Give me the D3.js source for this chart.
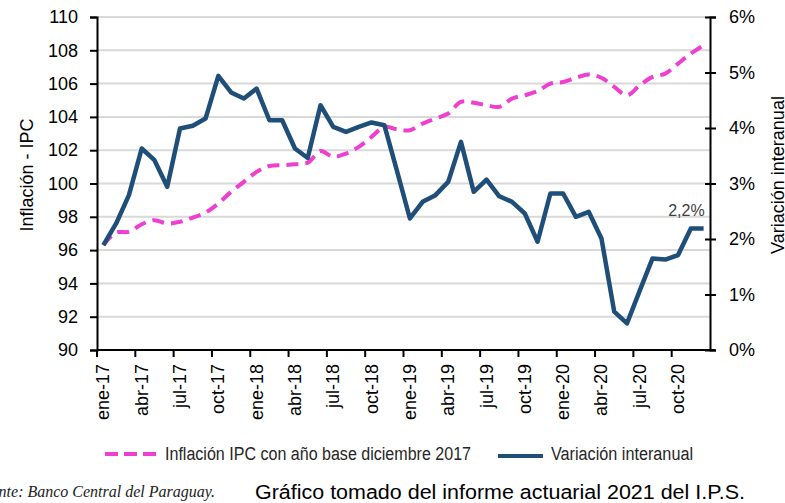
<!DOCTYPE html>
<html>
<head>
<meta charset="utf-8">
<script src="https://cdn.jsdelivr.net/npm/d3@7"></script>
<style>
  body { margin: 0; background: #fff; }
  svg { display: block; }
</style>
</head>
<body>
<div id="grafico"></div>
<script>

// meses ene-17 .. dic-20
var meses = ["ene","feb","mar","abr","may","jun","jul","ago","sep","oct","nov","dic"];
var anios = ["17","18","19","20"];
var categorias = [];
anios.forEach(function(a) { meses.forEach(function(m) { categorias.push(m + "-" + a); }); });

// Inflación IPC (base dic 2017), eje izquierdo
var ipc = [96.3, 97.05, 97.1, 97.55, 97.8, 97.6, 97.7, 97.95, 98.25, 98.8, 99.5, 100.1,
           100.7, 101.05, 101.1, 101.15, 101.25, 101.95, 101.6, 101.8, 102.2, 102.8, 103.4, 103.25,
           103.2, 103.6, 103.9, 104.2, 104.9, 104.85, 104.7, 104.6, 105.1, 105.3, 105.55, 106.0,
           106.1, 106.35, 106.55, 106.35, 105.8, 105.3, 105.9, 106.4, 106.6, 107.2, 107.8, 108.3];

// Variación interanual (%), eje derecho
var variacion = [1.89, 2.28, 2.79, 3.63, 3.42, 2.94, 3.99, 4.04, 4.17, 4.94, 4.64, 4.53,
                 4.71, 4.14, 4.14, 3.63, 3.46, 4.41, 4.02, 3.93, 4.02, 4.10, 4.05, 3.22,
                 2.37, 2.67, 2.79, 3.03, 3.75, 2.85, 3.07, 2.77, 2.67, 2.46, 1.95, 2.82,
                 2.82, 2.40, 2.49, 2.01, 0.69, 0.48, 1.07, 1.65, 1.63, 1.71, 2.19, 2.19];

var ticksIzq = [90, 92, 94, 96, 98, 100, 102, 104, 106, 108, 110];
var ticksDer = [0, 1, 2, 3, 4, 5, 6];
var etiquetaFinal = "2,2%";

const width = 785;
const height = 503;
var x0 = 97, x1 = 710, yTop = 17, yBot = 350;
var azul = "#1f4e79";
var rosa = "#ee3fd0";

var x = d3.scaleBand().domain(categorias).range([x0, x1]).padding(0);
var yL = d3.scaleLinear().domain([90, 110]).range([yBot, yTop]);
var yR = d3.scaleLinear().domain([0, 6]).range([yBot, yTop]);
var cx = function(i) { return x(categorias[i]) + x.bandwidth() / 2; };

const svg = d3.select('#grafico')
  .append('svg')
  .attr('width', width)
  .attr('height', height)
  .style('font-family', '"Liberation Sans", Arial, sans-serif');

// lineas de grilla
svg.append("g").selectAll("line")
  .data(ticksIzq.slice(1))
  .enter().append("line")
  .attr("x1", x0).attr("x2", x1)
  .attr("y1", function(d) { return yL(d); })
  .attr("y2", function(d) { return yL(d); })
  .attr("stroke", "#d9d9d9")
  .attr("stroke-width", 2);

// eje izquierdo
var ejeIzq = svg.append("g")
  .attr("transform", "translate(" + x0 + ",0)")
  .call(d3.axisLeft(yL).tickValues(ticksIzq).tickSize(7).tickPadding(12));

// eje derecho
var ejeDer = svg.append("g")
  .attr("transform", "translate(" + x1 + ",0)")
  .call(d3.axisRight(yR).tickValues(ticksDer).tickSize(6)
        .tickFormat(function(d) { return d + "%"; }).tickPadding(13));
ejeDer.selectAll(".tick line").attr("x1", -5);

// eje x: marcas cada 3 meses en los bordes de categoria
var marcas = d3.range(0, categorias.length, 3);
var ejeX = svg.append("g");
ejeX.append("line")
  .attr("x1", x0).attr("x2", x1 + 5)
  .attr("y1", yBot).attr("y2", yBot)
  .attr("stroke", "#000").attr("stroke-width", 2);
ejeX.selectAll("line.m")
  .data(marcas)
  .enter().append("line")
  .attr("class", "m")
  .attr("x1", function(i) { return x(categorias[i]); })
  .attr("x2", function(i) { return x(categorias[i]); })
  .attr("y1", yBot).attr("y2", yBot + 7)
  .attr("stroke", "#000").attr("stroke-width", 2);
ejeX.selectAll("text")
  .data(marcas)
  .enter().append("text")
  .attr("transform", function(i) { return "translate(" + (cx(i) + 6) + "," + (yBot + 14) + ") rotate(-90)"; })
  .attr("text-anchor", "end")
  .attr("font-size", 18)
  .attr("fill", "#000")
  .text(function(i) { return categorias[i]; });

[ejeIzq, ejeDer].forEach(function(g) {
  g.select(".domain").attr("stroke", "#000").attr("stroke-width", 2);
  g.selectAll(".tick line").attr("stroke", "#000").attr("stroke-width", 2);
  g.selectAll(".tick text").attr("font-size", 18).attr("fill", "#000")
    .style("font-family", '"Liberation Sans", Arial, sans-serif');
});

// titulos de ejes
svg.append("text")
  .attr("transform", "translate(33,175) rotate(-90)")
  .attr("text-anchor", "middle")
  .attr("font-size", 18)
  .text("Inflación - IPC");
svg.append("text")
  .attr("transform", "translate(784,175) rotate(-90)")
  .attr("text-anchor", "middle")
  .attr("font-size", 18)
  .text("Variación interanual");

// serie IPC (suavizada, discontinua)
var lineaIpc = d3.line()
  .x(function(d, i) { return cx(i); })
  .y(function(d) { return yL(d); })
  .curve(d3.curveCatmullRom);
svg.append("path")
  .datum(ipc)
  .attr("d", lineaIpc)
  .attr("fill", "none")
  .attr("stroke", rosa)
  .attr("stroke-width", 4)
  .attr("stroke-dasharray", "12,7");

// serie variacion interanual
var lineaVar = d3.line()
  .x(function(d, i) { return cx(i); })
  .y(function(d) { return yR(d); });
svg.append("path")
  .datum(variacion)
  .attr("d", lineaVar)
  .attr("fill", "none")
  .attr("stroke", azul)
  .attr("stroke-width", 4.5)
  .attr("stroke-linejoin", "round");

var ult = variacion.length - 1;
svg.append("text")
  .attr("x", cx(ult) + 1)
  .attr("y", yR(variacion[ult]) - 12)
  .attr("text-anchor", "end")
  .attr("font-size", 16)
  .attr("fill", "#404040")
  .text(etiquetaFinal);

// leyenda (texto angosto)
var ley = svg.append("g");
ley.append("line")
  .attr("x1", 105).attr("x2", 157).attr("y1", 454).attr("y2", 454)
  .attr("stroke", rosa).attr("stroke-width", 4).attr("stroke-dasharray", "13,6");
ley.append("text")
  .attr("x", 165).attr("y", 460)
  .attr("font-size", 18).attr("fill", "#262626")
  .attr("textLength", 306).attr("lengthAdjust", "spacingAndGlyphs")
  .text("Inflación IPC con año base diciembre 2017");
ley.append("line")
  .attr("x1", 498).attr("x2", 543).attr("y1", 456).attr("y2", 456)
  .attr("stroke", azul).attr("stroke-width", 4);
ley.append("text")
  .attr("x", 551).attr("y", 460)
  .attr("font-size", 18).attr("fill", "#262626")
  .attr("textLength", 142).attr("lengthAdjust", "spacingAndGlyphs")
  .text("Variación interanual");

// notas al pie
svg.append("text")
  .attr("x", 215).attr("y", 497)
  .attr("text-anchor", "end")
  .attr("font-size", 16)
  .style("font-family", '"Liberation Serif", serif')
  .style("font-style", "italic")
  .attr("fill", "#222")
  .text("Fuente: Banco Central del Paraguay.");
svg.append("text")
  .attr("x", 255).attr("y", 499)
  .attr("font-size", 20)
  .attr("fill", "#000")
  .attr("textLength", 490).attr("lengthAdjust", "spacingAndGlyphs")
  .text("Gráfico tomado del informe actuarial 2021 del I.P.S.");

</script>
</body>
</html>
